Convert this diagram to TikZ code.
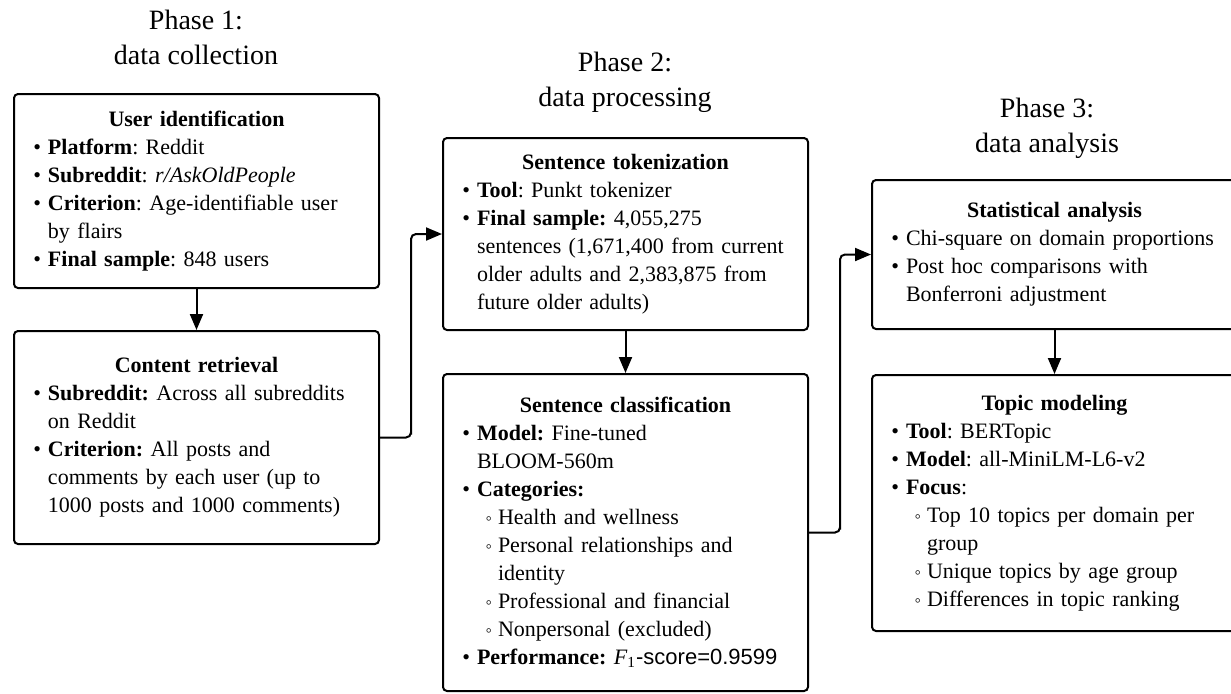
\documentclass[tikz,border=0pt]{standalone}
\usepackage{fontspec}
\setmainfont{Liberation Serif}
\setsansfont{Liberation Sans}
\usepackage{enumitem}
\usetikzlibrary{arrows.meta, calc}
\frenchspacing

\setlist[itemize]{nosep, leftmargin=8.75pt, labelsep=3.5pt}
\setlist[itemize,1]{label=\textbullet}
\setlist[itemize,2]{label={\small ◦}, leftmargin=10.5pt, labelsep=3pt}

\begin{document}
\begin{tikzpicture}[x=0.5pt, y=-0.5pt,
    stagebox/.style={draw, line width=1pt, rounded corners=2pt, anchor=north west,
        minimum width=182.5pt, text width=166pt, inner xsep=8.25pt, inner ysep=0pt,
        align=left, font=\fontsize{11}{14}\selectfont},
    phasetitle/.style={align=center, font=\fontsize{14}{17.5}\selectfont},
    flow/.style={line width=1pt, rounded corners=2.5pt, -{Triangle[length=8pt, width=6.5pt]}}]

    % --- Frame of the picture ---
    \useasboundingbox (0,0) rectangle (1231,693);
    \clip (0,0) rectangle (1231,693);

    % --- Phase titles ---
    \node[phasetitle] (phaseone)   at (196,37)  {Phase 1:\\data collection};
    \node[phasetitle] (phasetwo)   at (625,82)  {Phase 2:\\data processing};
    \node[phasetitle] (phasethree) at (1047,128) {Phase 3:\\data analysis};

    % --- Phase 1 ---
    \node[stagebox, minimum height=97pt] (userid) at (13,93) {%
        \centerline{\textbf{User identification}}
        \begin{itemize}
            \item \textbf{Platform}: Reddit
            \item \textbf{Subreddit}: \textit{r/AskOldPeople}
            \item \textbf{Criterion}: Age-identifiable user\newline by flairs
            \item \textbf{Final sample}: 848 users
        \end{itemize}};

    \node[stagebox, minimum height=106.5pt] (retrieval) at (13,330) {%
        \centerline{\textbf{Content retrieval}}
        \begin{itemize}
            \item \textbf{Subreddit:} Across all subreddits\newline on Reddit
            \item \textbf{Criterion:} All posts and\newline comments by each user (up to\newline 1000 posts and 1000 comments)
        \end{itemize}};

    % --- Phase 2 ---
    \node[stagebox, minimum height=96pt] (tokenize) at (442,137) {%
        \centerline{\textbf{Sentence tokenization}}
        \begin{itemize}
            \item \textbf{Tool}: Punkt tokenizer
            \item \textbf{Final sample:} 4,055,275\newline sentences (1,671,400 from current\newline older adults and 2,383,875 from\newline future older adults)
        \end{itemize}};

    \node[stagebox, minimum height=158.5pt] (classify) at (442,373) {%
        \centerline{\textbf{Sentence classification}}
        \begin{itemize}
            \item \textbf{Model:} Fine-tuned\newline BLOOM-560m
            \item \textbf{Categories:}
            \begin{itemize}
                \item Health and wellness
                \item Personal relationships and\newline identity
                \item Professional and financial
                \item Nonpersonal (excluded)
            \end{itemize}
            \item \textbf{Performance:} \textit{F}\textsubscript{1}{\sffamily -score=0.9599}
        \end{itemize}};

    % --- Phase 3 ---
    \node[stagebox, minimum height=74.5pt] (stats) at (871,179) {%
        \centerline{\textbf{Statistical analysis}}
        \begin{itemize}
            \item Chi-square on domain proportions
            \item Post hoc comparisons with\newline Bonferroni adjustment
        \end{itemize}};

    \node[stagebox, minimum height=128pt] (topics) at (871,374) {%
        \centerline{\textbf{Topic modeling}}
        \begin{itemize}
            \item \textbf{Tool}: BERTopic
            \item \textbf{Model}: all-MiniLM-L6-v2
            \item \textbf{Focus}:
            \begin{itemize}
                \item Top 10 topics per domain per\newline group
                \item Unique topics by age group
                \item Differences in topic ranking
            \end{itemize}
        \end{itemize}};

    % --- Connectors ---
    \draw[flow] (userid) -- (retrieval);
    \draw[flow] (retrieval.east) -| ($(retrieval.east)!0.5!(retrieval.east -| tokenize.west)$) |- (tokenize.west);
    \draw[flow] (tokenize) -- (classify);
    \draw[flow] (classify.east) -| ($(classify.east)!0.5!(classify.east -| stats.west)$) |- (stats.west);
    \draw[flow] (stats) -- (topics);

\end{tikzpicture}
\end{document}
